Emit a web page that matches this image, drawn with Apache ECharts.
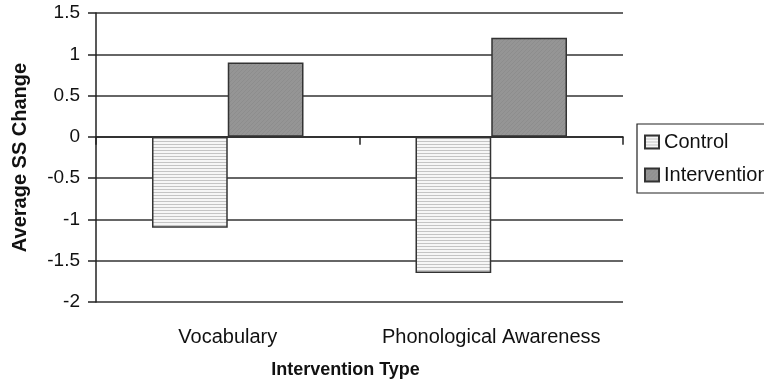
<!DOCTYPE html>
<html>
<head>
<meta charset="utf-8">
<script src="https://cdn.jsdelivr.net/npm/echarts@6/dist/echarts.min.js"></script>
<style>
  html, body { margin: 0; padding: 0; background: #fff; }
  #chart { width: 764px; height: 385px; }
</style>
</head>
<body>
<div id="chart"></div>
<script>
// Intervention types and average standard-score change per group
const categories = ['Vocabulary', 'Phonological Awareness'];
const controlValues = [-1.1, -1.65];
const interventionValues = [0.9, 1.2];
const yTicks = { min: -2, max: 1.5, interval: 0.5 };

// Fine horizontal stripes for the control group
function stripePattern() {
  const c = document.createElement('canvas');
  c.width = 4; c.height = 3;
  const g = c.getContext('2d');
  g.fillStyle = '#f6f6f6';
  g.fillRect(0, 0, 4, 3);
  g.fillStyle = '#c4c4c4';
  g.fillRect(0, 0, 4, 1);
  return c;
}

// Mid-grey with a faint diagonal grain for the intervention group
function greyPattern() {
  const c = document.createElement('canvas');
  c.width = 4; c.height = 4;
  const g = c.getContext('2d');
  g.fillStyle = '#959595';
  g.fillRect(0, 0, 4, 4);
  g.fillStyle = '#8d8d8d';
  for (let i = 0; i < 4; i++) g.fillRect(i, 3 - i, 1, 1);
  return c;
}

const chart = echarts.init(document.getElementById('chart'), null, { renderer: 'canvas' });
const font = 'Liberation Sans, Arial, Helvetica, sans-serif';

chart.setOption({
  animation: false,
  backgroundColor: '#ffffff',
  textStyle: { fontFamily: font },
  grid: { left: 96, right: 141, top: 13, bottom: 83, containLabel: false },
  legend: {
    orient: 'vertical',
    left: 637,
    top: 124,
    padding: [8, 40, 8, 7],
    itemGap: 13,
    itemWidth: 14,
    itemHeight: 13,
    borderColor: '#222',
    borderWidth: 1.2,
    icon: 'rect',
    textStyle: { fontFamily: font, fontSize: 20, color: '#111' },
    data: ['Control', 'Intervention']
  },
  xAxis: [
    {
      type: 'category',
      data: categories,
      axisLine: { onZero: true, lineStyle: { color: '#222', width: 1.5 } },
      axisTick: { show: true, length: 8, alignWithLabel: false, lineStyle: { color: '#222', width: 1.5 } },
      axisLabel: { show: false },
      splitLine: { show: false }
    },
    {
      type: 'category',
      position: 'bottom',
      data: categories,
      axisLine: { show: false, onZero: false },
      axisTick: { show: false },
      axisLabel: { interval: 0, margin: 25, fontSize: 20, color: '#111', fontFamily: font },
      name: 'Intervention Type',
      nameLocation: 'middle',
      nameGap: 59,
      nameTextStyle: { fontSize: 18, fontWeight: 'bold', color: '#111', fontFamily: font, padding: [0, 28, 0, 0] }
    }
  ],
  yAxis: {
    type: 'value',
    min: yTicks.min,
    max: yTicks.max,
    interval: yTicks.interval,
    name: 'Average SS Change',
    nameLocation: 'middle',
    nameGap: 66,
    nameTextStyle: { fontSize: 20, fontWeight: 'bold', color: '#111', fontFamily: font },
    axisLine: { show: true, lineStyle: { color: '#222', width: 1.5 } },
    axisTick: { show: true, length: 8, lineStyle: { color: '#222', width: 1.5 } },
    axisLabel: { margin: 16, fontSize: 19, color: '#111', fontFamily: font },
    splitLine: { show: true, lineStyle: { color: '#333', width: 1.5 } }
  },
  series: [
    {
      name: 'Control',
      type: 'bar',
      xAxisIndex: 0,
      data: controlValues,
      barGap: '0%',
      barCategoryGap: '42.5%',
      itemStyle: {
        color: { image: stripePattern(), repeat: 'repeat' },
        borderColor: '#333',
        borderWidth: 1.5
      }
    },
    {
      name: 'Intervention',
      type: 'bar',
      xAxisIndex: 0,
      data: interventionValues,
      barGap: '0%',
      barCategoryGap: '42.5%',
      itemStyle: {
        color: { image: greyPattern(), repeat: 'repeat' },
        borderColor: '#333',
        borderWidth: 1.5
      }
    }
  ]
});
</script>
</body>
</html>
